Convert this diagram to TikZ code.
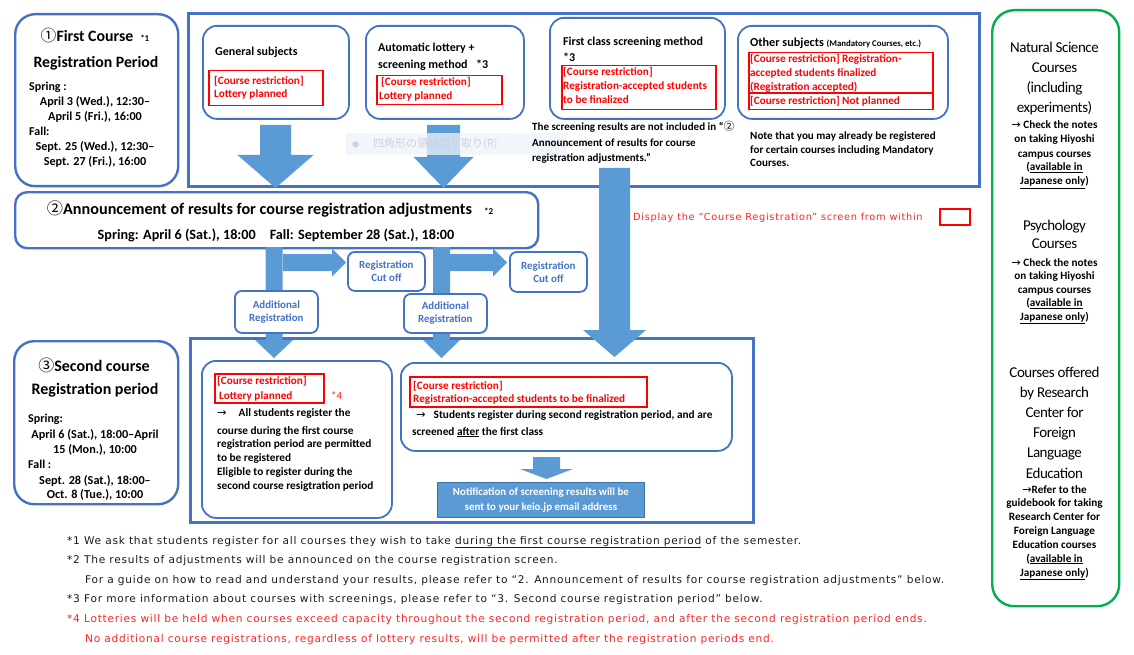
\documentclass[tikz,border=0pt]{standalone}
\usepackage{fontspec}
\setmainfont{Carlito}
\newfontfamily\jpfont{Noto Sans CJK JP}
\newfontfamily\footfont[LetterSpace=7]{DejaVu Sans}
\newfontfamily\arrowfont{DejaVu Sans}
\newfontfamily\titlefont[LetterSpace=-3]{Carlito}
\usetikzlibrary{calc}

\definecolor{boxblue}{HTML}{4472C4}
\definecolor{arrowblue}{HTML}{5B9BD5}
\definecolor{notifedge}{HTML}{41719C}
\definecolor{regred}{HTML}{FF0000}
\definecolor{notered}{HTML}{FF2424}
\definecolor{okgreen}{HTML}{00B050}
\definecolor{footblack}{HTML}{1A1A1A}
\definecolor{ghostfill}{HTML}{EEF4FC}
\definecolor{ghosttext}{HTML}{CDD2DA}

\tikzset{
  bigframe/.style={draw=boxblue, line width=2.6pt, anchor=north west, inner sep=0pt},
  roundbox/.style={draw=boxblue, line width=2.4pt, rounded corners=20pt, fill=white, anchor=north west, inner sep=0pt},
  subbox/.style={draw=boxblue, line width=1.8pt, rounded corners=14pt, fill=white, anchor=north west, inner sep=0pt},
  tagbox/.style={draw=boxblue, line width=1.8pt, rounded corners=7pt, fill=white, anchor=north west, inner sep=0pt,
    text=boxblue, align=center, font=\bfseries\fontsize{10.9}{13}\selectfont},
  redbox/.style={draw=regred, line width=1.5pt, anchor=north west, inner sep=0pt},
  txt/.style={inner sep=0pt, anchor=base west, align=left, font=\bfseries\fontsize{11.3}{14}\selectfont},
  redtxt/.style={txt, text=regred, font=\bfseries\fontsize{11.2}{13.5}\selectfont},
  headtxt/.style={inner sep=0pt, anchor=base, font=\bfseries\fontsize{15.8}{18}\selectfont},
  greentitle/.style={inner sep=0pt, anchor=base, align=center, font=\titlefont\fontsize{15}{20}\selectfont},
  greennote/.style={inner sep=0pt, anchor=base, align=center, font=\bfseries\fontsize{11.2}{14}\selectfont},
  foot/.style={inner sep=0pt, anchor=base west, text=footblack, font=\footfont\fontsize{10.6}{12}\selectfont},
}

% block arrows: start, tip, shaft half width, head half width, head length
\newcommand{\dnarrow}[5]{%
  \fill[arrowblue] let \p1=(#1), \p2=(#2) in
    (\x1-#3pt,\y1) -- (\x1+#3pt,\y1) -- (\x1+#3pt,\y2+#5pt) -- (\x1+#4pt,\y2+#5pt)
    -- (\x1,\y2) -- (\x1-#4pt,\y2+#5pt) -- (\x1-#3pt,\y2+#5pt) -- cycle;}
\newcommand{\rtarrow}[5]{%
  \fill[arrowblue] let \p1=(#1), \p2=(#2) in
    (\x1,\y1+#3pt) -- (\x1,\y1-#3pt) -- (\x2-#5pt,\y1-#3pt) -- (\x2-#5pt,\y1-#4pt)
    -- (\x2,\y1) -- (\x2-#5pt,\y1+#4pt) -- (\x2-#5pt,\y1+#3pt) -- cycle;}

\begin{document}
\begin{tikzpicture}[x=1pt,y=-1pt]
\useasboundingbox (0,0) rectangle (1134,655);
\fill[white] (0,0) rectangle (1134,655);

% first course registration period
\node[roundbox, minimum width=163pt, minimum height=172pt] (first) at (14,13) {};
\node[headtxt] (firsthd) at (95,41.5) {{\jpfont\mdseries ①}First Course\hspace{7pt}{\fontsize{9}{10}\selectfont *1}};
\node[headtxt] (firsthd2) at (96,67.5) {Registration Period};
\node[txt, font=\bfseries\fontsize{12}{15}\selectfont] (firstsp) at (29,91) {Spring :};
\node[txt, anchor=base, align=center, font=\bfseries\fontsize{12.2}{15}\selectfont] (firstspd) at (95,121) {April 3 (Wed.), 12:30–\\April 5 (Fri.), 16:00};
\node[txt, font=\bfseries\fontsize{12}{15}\selectfont] (firstfa) at (29,136) {Fall:};
\node[txt, anchor=base, align=center, font=\bfseries\fontsize{12.2}{15}\selectfont] (firstfad) at (95,166) {Sept. 25 (Wed.), 12:30–\\Sept. 27 (Fri.), 16:00};

% course types
\node[bigframe, minimum width=791pt, minimum height=173pt] (types) at (187,12) {};

\node[subbox, minimum width=146pt, minimum height=93pt] (gen) at (202,25) {};
\node[subbox, minimum width=158pt, minimum height=93pt] (auto) at (365,25) {};
\node[subbox, minimum width=175pt, minimum height=101pt] (fcs) at (549,17) {};
\node[subbox, minimum width=210pt, minimum height=93pt] (other) at (737,25) {};

\coordinate (gens) at (275.5,125);
\coordinate (gent) at (275.5,188);
\dnarrow{gens}{gent}{15.5}{38}{33}
\coordinate (autos) at (443.5,125);
\coordinate (autot) at (443.5,188);
\dnarrow{autos}{autot}{16.5}{30}{31}

% screen capture overlay left in the picture
\fill[ghostfill, opacity=0.75] (346,133) rectangle (567,155);
\node[inner sep=0pt, anchor=west, text=ghosttext, font=\jpfont\fontsize{11}{12}\selectfont] (ghost) at (352,144) {\fontsize{7}{8}\selectfont ●\hspace{14pt}\fontsize{11}{12}\selectfont 四角形の領域切り取り(R)};

\node[txt, font=\bfseries\fontsize{12}{14}\selectfont] (genhd) at (215,56) {General subjects};
\node[redbox, minimum width=114pt, minimum height=35pt] (genred) at (208,70) {};
\node[redtxt, font=\bfseries\fontsize{11.2}{13}\selectfont] (genrt) at (214,98) {[Course restriction]\\Lottery planned};

\node[txt, font=\bfseries\fontsize{12}{17}\selectfont] (autohd) at (378,69) {Automatic lottery +\\screening method};
\node[txt, font=\bfseries\fontsize{12}{14}\selectfont] (autofn) at (476,69) {*3};
\node[redbox, minimum width=125pt, minimum height=29pt] (autored) at (376,75) {};
\node[redtxt, font=\bfseries\fontsize{11.2}{14}\selectfont] (autort) at (379,100) {\hspace{2pt}[Course restriction]\\Lottery planned};

\node[txt, font=\bfseries\fontsize{12}{16}\selectfont] (fcshd) at (563,62) {First class screening method\\*3};
\node[redbox, minimum width=154pt, minimum height=44pt] (fcsred) at (561,65) {};
\node[redtxt, font=\bfseries\fontsize{11.2}{14}\selectfont] (fcsrt) at (563,104) {[Course restriction]\\Registration-accepted students\\to be finalized};
\node[txt, font=\bfseries\fontsize{11}{15.5}\selectfont] (fcsnote) at (532,162) {The screening results are not included in “{\jpfont\mdseries ②}\\Announcement of results for course\\registration adjustments.”};

\node[txt, font=\bfseries\fontsize{12.2}{14}\selectfont] (otherhd) at (750,47) {Other subjects {\fontsize{8.8}{9}\selectfont (Mandatory Courses, etc.)}};
\node[redbox, minimum width=184pt, minimum height=40pt] (otherred) at (748,52) {};
\node[redbox, minimum width=184pt, minimum height=16pt] (otherred2) at (748,93) {};
\node[redtxt, font=\bfseries\fontsize{11.2}{14}\selectfont] (otherrt) at (750,105) {[Course restriction] Registration-\\accepted students finalized\\(Registration accepted)\\{}[Course restriction] Not planned};
\node[txt, font=\bfseries\fontsize{11.1}{13.5}\selectfont] (othernote) at (750,167) {Note that you may already be registered\\for certain courses including Mandatory\\Courses.};

% announcement of results
\node[roundbox, rounded corners=12pt, minimum width=523pt, minimum height=56pt] (ann) at (14,191) {};
\node[headtxt, font=\bfseries\fontsize{16.2}{18}\selectfont] (annhd) at (270,214.5) {{\jpfont\mdseries ②}Announcement of results for course registration adjustments\hspace{12pt}{\fontsize{9}{10}\selectfont *2}};
\node[headtxt, font=\bfseries\fontsize{14.2}{16}\selectfont] (anndate) at (276,239) {Spring: April 6 (Sat.), 18:00\hspace{14pt}Fall: September 28 (Sat.), 18:00};

\node[inner sep=0pt, anchor=base west, text=notered, font=\footfont\fontsize{9.8}{12}\selectfont] (display) at (633,220.5) {Display the “Course Registration” screen from within};
\node[redbox, minimum width=30pt, minimum height=16pt] (displaybox) at (939,208) {};

% second course registration period
\node[roundbox, minimum width=164pt, minimum height=163pt] (second) at (13,340) {};
\node[headtxt, font=\bfseries\fontsize{16}{18}\selectfont] (secondhd) at (94,371.5) {{\jpfont\mdseries ③}Second course};
\node[headtxt, font=\bfseries\fontsize{16}{18}\selectfont] (secondhd2) at (95,394.5) {Registration period};
\node[txt, font=\bfseries\fontsize{12}{15}\selectfont] (secondsp) at (28,422) {Spring:};
\node[txt, anchor=base, align=center, font=\bfseries\fontsize{12.2}{15}\selectfont] (secondspd) at (95,453) {April 6 (Sat.), 18:00–April\\15 (Mon.), 10:00};
\node[txt, font=\bfseries\fontsize{12}{15}\selectfont] (secondfa) at (28,468) {Fall :};
\node[txt, anchor=base, align=center, font=\bfseries\fontsize{12.2}{13.5}\selectfont] (secondfad) at (95,498) {Sept. 28 (Sat.), 18:00–\\Oct. 8 (Tue.), 10:00};

\node[bigframe, minimum width=563pt, minimum height=184pt] (reg2) at (189,337) {};
\node[subbox, minimum width=190pt, minimum height=157pt] (lot) at (201,360) {};
\node[redbox, minimum width=109pt, minimum height=29pt] (lotred) at (214,373) {};
\node[redtxt, font=\bfseries\fontsize{11.2}{15}\selectfont] (lotrt) at (217,399) {[Course restriction]\\\hspace{2pt}Lottery planned};
\node[inner sep=0pt, anchor=base west, text=notered, font=\fontsize{11}{12}\selectfont] (lotfn) at (331,399) {*4};
\node[txt] (lotarr) at (217,416) {{\arrowfont\mdseries →}\hspace{12pt}All students register the};
\node[txt, font=\bfseries\fontsize{11.3}{13.75}\selectfont] (lottx) at (217,489) {course during the first course\\registration period are permitted\\to be registered\\Eligible to register during the\\second course resigtration period};

\node[subbox, minimum width=331pt, minimum height=88pt] (scr) at (400,362) {};
\node[redbox, minimum width=237pt, minimum height=30pt] (scrred) at (409,376) {};
\node[redtxt, font=\bfseries\fontsize{11.2}{13}\selectfont] (scrrt) at (413,402) {[Course restriction]\\Registration-accepted students to be finalized};
\node[txt] (scrarr) at (416,418) {{\arrowfont\mdseries →}\hspace{8pt}Students register during second registration period, and are};
\node[txt] (scrtx) at (412,435) {screened \underline{after} the first class};

\coordinate (scrs) at (546.5,457);
\coordinate (scrt) at (546.5,479);
\dnarrow{scrs}{scrt}{13.5}{26.5}{10}
\node[draw=notifedge, line width=0.8pt, fill=arrowblue, anchor=north west, inner sep=0pt, minimum width=207pt, minimum height=35pt,
  text=white, align=center, font=\bfseries\fontsize{10.9}{15}\selectfont] (notif) at (437,482) {Notification of screening results will be\\sent to your keio.jp email address};

% flows between the periods
\coordinate (shas) at (274,247);
\coordinate (shat) at (274,358);
\dnarrow{shas}{shat}{8.5}{19}{18}
\coordinate (shbs) at (441.5,247);
\coordinate (shbt) at (441.5,358);
\dnarrow{shbs}{shbt}{8.5}{18.5}{18}
\coordinate (bras) at (283,262.5);
\coordinate (brat) at (346,262.5);
\rtarrow{bras}{brat}{8.5}{14}{14}
\coordinate (brbs) at (450,262.5);
\coordinate (brbt) at (507,262.5);
\rtarrow{brbs}{brbt}{8.5}{14}{14}
\coordinate (fcsa) at (614.5,168);
\coordinate (fcst) at (614.5,357);
\dnarrow{fcsa}{fcst}{15.5}{31.5}{27}

\node[tagbox, minimum width=77pt, minimum height=39pt] (cut1) at (347,251) {Registration\\Cut off};
\node[tagbox, minimum width=77pt, minimum height=40pt] (cut2) at (509,251) {Registration\\Cut off};
\node[tagbox, minimum width=83pt, minimum height=42pt] (add1) at (234,290) {Additional\\Registration};
\node[tagbox, minimum width=83pt, minimum height=39pt] (add2) at (403,293) {Additional\\Registration};

% notes on special courses
\node[draw=okgreen, line width=2.4pt, rounded corners=22pt, anchor=north west, inner sep=0pt, minimum width=127pt, minimum height=596pt] (green) at (991,9) {};
\node[greentitle] (nat) at (1054.5,113) {Natural Science\\Courses\\(including\\experiments)};
\node[greennote] (natn) at (1054.5,185) {{\arrowfont\mdseries →} Check the notes\\on taking Hiyoshi\\campus courses\\(\underline{available in}\\\underline{Japanese only})};
\node[greentitle, font=\titlefont\fontsize{15}{18}\selectfont] (psy) at (1054.5,248) {Psychology\\Courses};
\node[greennote, font=\bfseries\fontsize{11.2}{13.5}\selectfont] (psyn) at (1054.5,320) {{\arrowfont\mdseries →} Check the notes\\on taking Hiyoshi\\campus courses\\(\underline{available in}\\\underline{Japanese only})};
\node[greentitle, font=\titlefont\fontsize{15}{20.2}\selectfont] (flc) at (1054.5,478) {Courses offered\\by Research\\Center for\\Foreign\\Language\\Education};
\node[greennote, font=\bfseries\fontsize{11.2}{13.83}\selectfont] (flcn) at (1054.5,576) {{\arrowfont\mdseries →}Refer to the\\guidebook for taking\\Research Center for\\Foreign Language\\Education courses\\(\underline{available in}\\\underline{Japanese only})};

% footnotes
\node[foot] (fn1) at (67,544) {*1 We ask that students register for all courses they wish to take \underline{during the first course registration period} of the semester.};
\node[foot] (fn2) at (67,563) {*2 The results of adjustments will be announced on the course registration screen.};
\node[foot] (fn2b) at (85,583) {For a guide on how to read and understand your results, please refer to “2. Announcement of results for course registration adjustments” below.};
\node[foot] (fn3) at (67,602) {*3 For more information about courses with screenings, please refer to “3. Second course registration period” below.};
\node[foot, text=notered] (fn4) at (67,622) {*4 Lotteries will be held when courses exceed capacity throughout the second registration period, and after the second registration period ends.};
\node[foot, text=notered] (fn4b) at (85,642) {No additional course registrations, regardless of lottery results, will be permitted after the registration periods end.};
\end{tikzpicture}
\end{document}
